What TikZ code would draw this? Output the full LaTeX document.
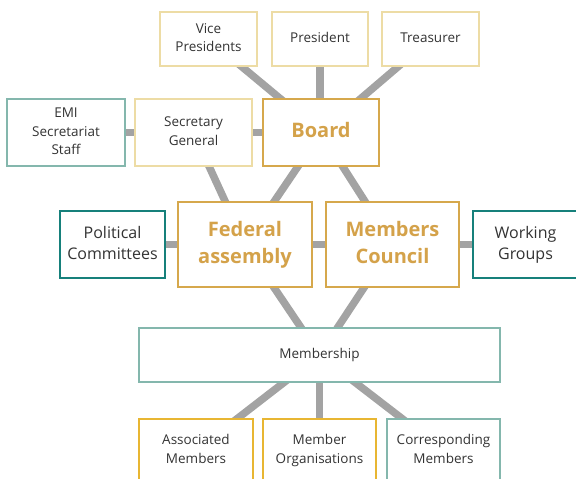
\documentclass[tikz,border=0pt]{standalone}
\usepackage{fontspec}
\setmainfont{Open Sans}
\pgfdeclarelayer{bg}
\pgfsetlayers{bg,main}
\definecolor{lgold}{HTML}{EDDCA5}
\definecolor{gold}{HTML}{D6A84C}
\definecolor{goldtext}{HTML}{D4A24A}
\definecolor{ygold}{HTML}{E8B632}
\definecolor{lteal}{HTML}{84B7AD}
\definecolor{dteal}{HTML}{16807B}
\definecolor{conn}{HTML}{A3A3A3}
\definecolor{txt}{HTML}{333333}
\newcommand{\lnst}{\strut}
\tikzset{
  box/.style={draw, line width=1.5pt, fill=white, inner sep=0pt, align=center,
    text=txt, font=\fontsize{13.5}{18.5}\selectfont},
  midbox/.style={box, font=\fontsize{16}{21}\selectfont},
  bigbox/.style={box, draw=gold, text=goldtext,
    font=\fontsize{20}{26.5}\selectfont\bfseries},
  link/.style={draw=conn, line width=7.5pt}
}
\begin{document}
\begin{tikzpicture}[x=1pt,y=-1pt]
\useasboundingbox (0,0) rectangle (576,479);
% top row
\node[box, draw=lgold, minimum width=97pt, minimum height=54pt] (vp) at (208.5,39) {\lnst Vice\\\lnst Presidents};
\node[box, draw=lgold, minimum width=96pt, minimum height=54pt] (pres) at (320,39) {\lnst President};
\node[box, draw=lgold, minimum width=97pt, minimum height=54pt] (treas) at (430.5,39) {\lnst Treasurer};
% second row
\node[box, draw=lteal, minimum width=118pt, minimum height=67pt] (emi) at (66,132.5) {\lnst EMI\\\lnst Secretariat\\\lnst Staff};
\node[box, draw=lgold, minimum width=117pt, minimum height=67pt] (sec) at (193.5,132.5) {\lnst Secretary\\\lnst General};
\node[bigbox, minimum width=116pt, minimum height=67pt] (board) at (321,132.5) {\lnst Board};
% third row
\node[midbox, draw=dteal, minimum width=105pt, minimum height=67pt] (pol) at (112.5,244.5) {\lnst Political\\\lnst Committees};
\node[bigbox, minimum width=134pt, minimum height=85pt] (fed) at (245,244.5) {\lnst Federal\\\lnst assembly};
\node[bigbox, minimum width=133pt, minimum height=85pt] (council) at (392.5,244.5) {\lnst Members\\\lnst Council};
\node[midbox, draw=dteal, minimum width=105pt, minimum height=67pt] (work) at (525.5,244.5) {\lnst Working\\\lnst Groups};
% membership
\node[box, draw=lteal, minimum width=361pt, minimum height=54pt] (mem) at (319.5,355) {\lnst Membership};
% bottom row
\node[box, draw=ygold, minimum width=114pt, minimum height=63pt] (assoc) at (196,450.5) {\lnst Associated\\\lnst Members};
\node[box, draw=ygold, minimum width=113pt, minimum height=63pt] (morg) at (319.5,450.5) {\lnst Member\\\lnst Organisations};
\node[box, draw=lteal, minimum width=113pt, minimum height=63pt] (corr) at (443.5,450.5) {\lnst Corresponding\\\lnst Members};
\begin{pgfonlayer}{bg}
\path[link] (vp.center) -- (board.center);
\path[link] (pres.center) -- (pres.center |- board.center);
\path[link] (treas.center) -- (board.center);
\path[link] (emi.center) -- (sec.center);
\path[link] (sec.center) -- (board.center);
\path[link] (sec.center) -- (fed.center);
\path[link] (board.center) -- (fed.center);
\path[link] (board.center) -- (council.center);
\path[link] (pol.center) -- (fed.center);
\path[link] (fed.center) -- (council.center);
\path[link] (council.center) -- (work.center);
\path[link] (fed.center) -- (mem.center);
\path[link] (council.center) -- (mem.center);
\path[link] (mem.center) -- (assoc.center);
\path[link] (mem.center) -- (morg.center);
\path[link] (mem.center) -- (corr.center);
\end{pgfonlayer}
\end{tikzpicture}
\end{document}
